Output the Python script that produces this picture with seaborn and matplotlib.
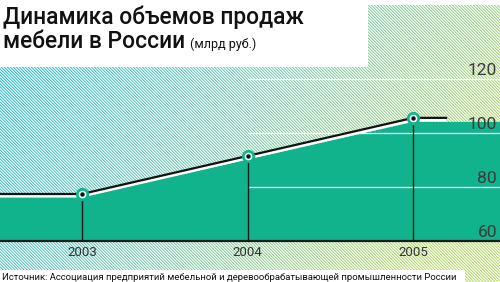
import numpy as np
import pandas as pd
import matplotlib
matplotlib.use("Agg")
import matplotlib.pyplot as plt
import matplotlib.transforms as mtransforms
import seaborn as sns

# ---- data ----
years = [2003, 2004, 2005]
sales = [77.4, 91.5, 105.6]          # bn rub (line)
fill_level = [76.3, 90.2, 104.1]     # top edge of the green area
yticks = [60, 80, 100, 120]
xtick_labels = ["2003", "2004", "2005"]
title1 = "Динамика объемов продаж"
title2 = "мебели в России"
unit = "(млрд руб.)"
source = "Источник: Ассоциация предприятий мебельной и деревообрабатывающей промышленности России"

sns.set_theme(style="white")
FONT = ["Roboto", "DejaVu Sans"]
plt.rcParams["font.family"] = FONT

W, H = 500, 282
fig = plt.figure(figsize=(W / 100, H / 100), dpi=100)
ax = fig.add_axes([0, 0, 1, 1])
XLIM = (2002.506, 2005.524)
YLIM = (44.8, 149.26)
ax.set_xlim(*XLIM)
ax.set_ylim(*YLIM)
ax.axis("off")

# ---- hatched background ----
yy, xx = np.mgrid[0:H, 0:W]
t = np.clip(xx / W * 0.85 + yy / H * 0.35 - 0.05, 0, 1)[..., None]
c0 = np.array([0.20, 0.76, 0.84])
c1 = np.array([0.52, 0.81, 0.72])
c2 = np.array([0.74, 0.87, 0.48])
col = np.where(t < 0.5, c0 + (c1 - c0) * (t / 0.5), c1 + (c2 - c1) * ((t - 0.5) / 0.5))
phase = ((xx - yy) % 3)[..., None]
white = np.ones(3)
img = np.where(phase == 0, col, np.where(phase == 1, col * 0.5 + white * 0.5, col * 0.12 + white * 0.88))
ax.imshow(img, extent=[XLIM[0], XLIM[1], YLIM[0], YLIM[1]], origin="upper",
          aspect="auto", interpolation="nearest", zorder=0)

# white boxes for title and source
ax.add_patch(plt.Rectangle((0, 1 - 67 / H), 368 / W, 67 / H, transform=ax.transAxes,
                           color="white", zorder=1, lw=0))
ax.add_patch(plt.Rectangle((0, 1 - 5 / H), 1, 5 / H, transform=ax.transAxes,
                           color="white", zorder=1, lw=0))
ax.add_patch(plt.Rectangle((0, 0), 465 / W, 12 / H, transform=ax.transAxes,
                           color="white", zorder=1, lw=0))

GREEN = "#10b38b"
# ---- green area ----
fx = [XLIM[0]] + years + [XLIM[1]]
fy = [fill_level[0]] + fill_level + [fill_level[-1]]
ax.fill_between(fx, fy, yticks[0], color=GREEN, lw=0, zorder=2)

# white grid lines from 2004 on
for v in yticks[1:]:
    ax.plot([years[1], XLIM[1]], [v, v], color="white", lw=0.9, zorder=3)

# vertical drop lines
for yr, v in zip(years, sales):
    ax.plot([yr, yr], [yticks[0], v], color="#1a1a1a", lw=1.0, zorder=4)

# bottom axis line
ax.plot([XLIM[0], XLIM[1]], [yticks[0], yticks[0]], color="#1a1a1a", lw=1.6, zorder=5)

# ---- the line ----
lx = [XLIM[0]] + years + [years[-1] + 0.2]
ly = [sales[0]] + sales + [sales[-1]]
df = pd.DataFrame({"x": lx, "y": ly})
off = mtransforms.ScaledTranslation(0, -1.8 / 100, fig.dpi_scale_trans)
ax.plot(lx, ly, color="white", lw=2.6, zorder=5, transform=ax.transData + off,
        solid_capstyle="butt")
sns.lineplot(data=df, x="x", y="y", ax=ax, color="#111111", lw=1.6, zorder=6,
             estimator=None, sort=False)

# markers
ax.plot(years, sales, "o", ms=8.5, mfc=GREEN, mec=GREEN, zorder=7)
ax.plot(years, sales, "o", ms=4.5, mfc="white", mec="white", zorder=8)
ax.plot(years, sales, "o", ms=2.2, mfc="#111111", mec="#111111", zorder=9)

# ---- tick labels ----
for v in yticks:
    ax.text(0.994, v + 0.4, str(v), transform=ax.get_yaxis_transform(), ha="right",
            va="bottom", fontsize=12.5, color="#3a3a3a", zorder=10)
for yr, lab in zip(years, xtick_labels):
    ax.text(yr, YLIM[0] + (YLIM[1] - YLIM[0]) * (1 - 252 / H), lab, ha="center",
            va="center", fontsize=9.5, color="#333333", zorder=10)

# ---- titles ----
renderer = fig.canvas.get_renderer()


def fit(txt, width_px):
    bb = txt.get_window_extent(renderer)
    txt.set_fontsize(txt.get_fontsize() * width_px / bb.width)


t1 = fig.text(3 / W, 1 - 24 / H, title1, fontsize=19, color="#111111", ha="left",
              va="baseline", fontweight="medium", zorder=11)
fit(t1, 302)
t2 = fig.text(3 / W, 1 - 48 / H, title2, fontsize=t1.get_fontsize(), color="#111111",
              ha="left", va="baseline", fontweight="medium", zorder=11)
bb2 = t2.get_window_extent(renderer)
fig.text((bb2.x1 + 5) / W, 1 - 48 / H, unit, fontsize=9, color="#111111", ha="left",
         va="baseline", zorder=11)
ts = fig.text(2 / W, 2.5 / H, source, fontsize=7.8, color="#111111", ha="left",
              va="baseline", zorder=11)
fit(ts, 458)

fig.savefig("out.png", dpi=100)
